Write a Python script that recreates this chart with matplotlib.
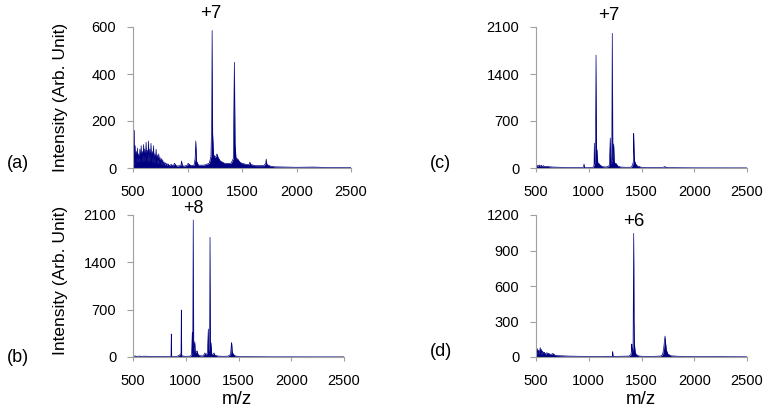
import matplotlib
matplotlib.use('Agg')
import matplotlib.pyplot as plt

plt.rcParams['font.family'] = ['Liberation Sans', 'DejaVu Sans']

# panel (a)
mz_a = [500, 505, 508, 512, 515, 520, 524, 530, 535, 540, 546, 552, 557, 563, 568, 575, 580,
        586, 591, 597, 602, 608, 613, 620, 625, 631, 636, 642, 647, 654, 659, 665, 670, 677,
        682, 688, 693, 700, 705, 712, 717, 724, 729, 736, 741, 748, 753, 760, 766, 772, 778,
        785, 792, 800, 810, 820, 835, 850, 870, 880, 900, 930, 940, 945, 952, 970, 1000, 1005,
        1030, 1060, 1070, 1076, 1082, 1100, 1150, 1200, 1215, 1222, 1226, 1230, 1238, 1250,
        1262, 1270, 1280, 1300, 1340, 1400, 1420, 1430, 1436, 1445, 1455, 1465, 1480, 1500,
        1540, 1565, 1572, 1580, 1620, 1700, 1718, 1722, 1728, 1760, 1800, 1900, 2000, 2150,
        2300, 2400, 2500]
int_a = [0, 40, 10, 160, 20, 95, 25, 70, 20, 85, 25, 60, 22, 80, 25, 95, 25,
         70, 25, 100, 25, 80, 25, 110, 25, 75, 25, 115, 25, 80, 25, 105, 22, 70,
         22, 95, 20, 60, 20, 80, 18, 55, 18, 60, 16, 45, 15, 40, 14, 35, 13,
         25, 12, 22, 12, 18, 10, 15, 9, 20, 8, 10, 12, 30, 10, 8, 12, 20,
         10, 12, 40, 115, 30, 12, 12, 20, 50, 200, 585, 150, 60, 45,
         50, 60, 45, 30, 20, 20, 40, 450, 100, 40, 40, 35, 25, 20,
         15, 15, 25, 15, 10, 10, 20, 38, 15, 8, 5, 4, 3, 4,
         2, 2, 2]

# panel (b)
mz_b = [500, 520, 540, 560, 580, 600, 650, 700, 750, 800, 850, 860, 863, 866, 880, 920, 940,
        950, 955, 958, 961, 970, 1000, 1040, 1055, 1062, 1066, 1071, 1075, 1080, 1085, 1090,
        1100, 1108, 1115, 1130, 1160, 1175, 1182, 1190, 1205, 1214, 1218, 1226, 1230, 1234,
        1240, 1246, 1260, 1268, 1275, 1300, 1350, 1400, 1425, 1432, 1435, 1440, 1450, 1470,
        1500, 1600, 1800, 2000, 2200, 2500]
int_b = [10, 15, 8, 14, 9, 12, 10, 8, 9, 8, 8, 10, 340, 8, 8, 10, 30,
         40, 60, 695, 20, 15, 10, 12, 30, 360, 60, 2026, 80, 150, 226, 60,
         80, 90, 40, 20, 15, 40, 60, 30, 60, 414, 80, 150, 1770, 100,
         211, 40, 40, 60, 30, 15, 10, 12, 40, 180, 211, 80, 40, 15,
         8, 5, 3, 3, 2, 2]

# panel (c)
mz_c = [500, 510, 520, 530, 540, 550, 560, 570, 580, 600, 620, 650, 700, 800, 900, 950, 955,
        960, 1000, 1040, 1050, 1053, 1057, 1063, 1069, 1074, 1080, 1085, 1090, 1100, 1110,
        1130, 1160, 1180, 1195, 1204, 1210, 1218, 1223, 1228, 1236, 1242, 1255, 1262, 1275,
        1300, 1350, 1400, 1415, 1423, 1426, 1430, 1435, 1445, 1460, 1500, 1600, 1700, 1720,
        1740, 1800, 2000, 2500]
int_c = [20, 40, 25, 45, 25, 40, 20, 35, 20, 25, 20, 15, 12, 8, 6, 8, 60,
         8, 6, 10, 40, 370, 60, 100, 1680, 100, 270, 80, 70, 60, 40,
         20, 15, 20, 40, 446, 60, 100, 2005, 120, 357, 80, 70, 60, 30,
         15, 10, 12, 40, 100, 515, 220, 100, 60, 30, 10, 6, 8, 20,
         8, 5, 3, 2]

# panel (d)
mz_d = [500, 505, 510, 515, 520, 525, 530, 540, 545, 550, 555, 560, 570, 580, 590, 600, 620,
        640, 660, 680, 700, 750, 800, 900, 1000, 1100, 1200, 1224, 1227, 1230, 1300, 1380,
        1400, 1405, 1408, 1412, 1420, 1426, 1429, 1432, 1440, 1450, 1470, 1500, 1600, 1680,
        1700, 1710, 1718, 1723, 1728, 1735, 1750, 1780, 1850, 2000, 2200, 2500]
int_d = [30, 60, 20, 70, 30, 55, 25, 80, 20, 65, 30, 50, 35, 40, 20, 35, 30,
         20, 30, 15, 12, 10, 8, 6, 5, 5, 6, 5, 45, 5, 6, 8,
         20, 60, 110, 40, 80, 1045, 298, 120, 40, 20, 10, 6, 5, 8,
         20, 70, 140, 177, 120, 60, 25, 10, 6, 4, 3, 2]

x_ticks = [500, 1000, 1500, 2000, 2500]
y_ticks_a = [0, 200, 400, 600]
y_ticks_b = [0, 700, 1400, 2100]
y_ticks_c = [0, 700, 1400, 2100]
y_ticks_d = [0, 300, 600, 900, 1200]

COL = '#000080'
W, H = 770., 413.


def spectrum(rect, mz, inten, yticks):
    """
    draws one mass spectrum panel
    """
    ax = fig.add_axes(rect)
    ax.fill_between(mz, inten, 0, color=COL, lw=0)
    ax.plot(mz, inten, c=COL, lw=0.5)
    ax.set_xlim(500, 2500)
    ax.set_ylim(0, yticks[-1])
    ax.set_xticks(x_ticks)
    ax.set_yticks(yticks)
    for s in ['top', 'right']:
        ax.spines[s].set_visible(False)
    for s in ['left', 'bottom']:
        ax.spines[s].set_color('#a0a0a0')
        ax.spines[s].set_linewidth(0.8)
    ax.tick_params(axis='y', length=4, color='#a0a0a0', labelsize=10.5, pad=8)
    ax.tick_params(axis='x', length=3, color='#a0a0a0', labelsize=10.5, pad=9)
    ax.set_facecolor('none')
    return ax


fig = plt.figure(figsize=(7.7, 4.13), dpi=100)

top_row = [1 - 168 / H, 141 / H]
bot_row = [1 - 357 / H, 142 / H]

spectrum([133 / W, top_row[0], 218 / W, top_row[1]], mz_a, int_a, y_ticks_a)
spectrum([536 / W, top_row[0], 211 / W, top_row[1]], mz_c, int_c, y_ticks_c)
spectrum([133 / W, bot_row[0], 211 / W, bot_row[1]], mz_b, int_b, y_ticks_b)
spectrum([536 / W, bot_row[0], 211 / W, bot_row[1]], mz_d, int_d, y_ticks_d)

def ftext(x, y, s, **kw):
    fig.text(x / W, 1 - y / H, s, ha='center', va='center', **kw)

ftext(18, 164, '(a)', fontsize=13)
ftext(440, 164, '(c)', fontsize=13)
ftext(18, 358, '(b)', fontsize=13)
ftext(441, 352, '(d)', fontsize=13)

ftext(211, 14, '+7', fontsize=13.5)
ftext(609, 15, '+7', fontsize=13.5)
ftext(193, 208, '+8', fontsize=13)
ftext(634, 222, '+6', fontsize=13.5)

ftext(61, 97, 'Intensity (Arb. Unit)', fontsize=12.5, rotation=90)
ftext(61, 280, 'Intensity (Arb. Unit)', fontsize=12.5, rotation=90)
ftext(237, 400, 'm/z', fontsize=13.5)
ftext(641, 400, 'm/z', fontsize=13.5)

fig.savefig('out.png', dpi=100)
